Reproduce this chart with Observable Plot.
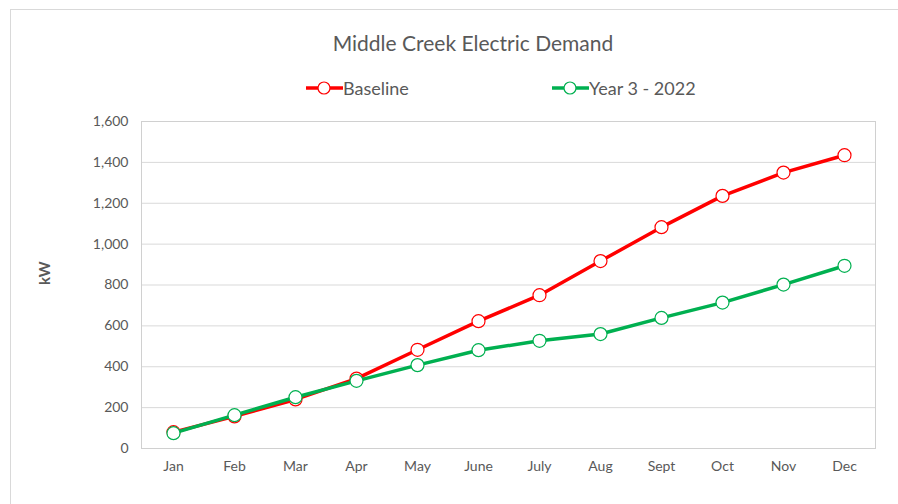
<!DOCTYPE html>
<html>
<head>
<meta charset="utf-8">
<script src="https://cdn.jsdelivr.net/npm/d3@7"></script>
<script src="https://cdn.jsdelivr.net/npm/@observablehq/plot@0.6"></script>
<style>
  html, body { margin: 0; padding: 0; background: #fff; overflow: hidden; }
  #wrap { position: relative; width: 898px; height: 504px; overflow: hidden; font-family: Lato, "Open Sans", sans-serif; }
  #bl { position: absolute; left: 10px; top: 9px; width: 1px; height: 495px; background: #d9d9d9; }
  #bt { position: absolute; left: 10px; top: 9px; width: 888px; height: 1px; background: #d9d9d9; }
  #head { position: absolute; left: 0; top: 0; width: 898px; height: 100px; }
  #title { position: absolute; left: 48px; width: 850px; top: 30px; text-align: center; font-size: 21px; color: #595959; }
  .leg { position: absolute; top: 77px; display: flex; align-items: center; font-size: 18px; color: #595959; }
  #chart { position: absolute; left: 0; top: 100px; width: 898px; height: 404px; overflow: hidden; }
</style>
</head>
<body>
<div id="wrap">
  <div id="bl"></div>
  <div id="bt"></div>
  <div id="head">
    <div id="title">Middle Creek Electric Demand</div>
    <div class="leg" id="leg1" style="left:306px"></div>
    <div class="leg" id="leg2" style="left:552px"></div>
  </div>
  <div id="chart"></div>
</div>
<script>
const months = ["Jan","Feb","Mar","Apr","May","June","July","Aug","Sept","Oct","Nov","Dec"];
const baseline = [80, 157, 240, 342, 483, 623, 750, 917, 1083, 1236, 1350, 1435];
const year3 = [75, 163, 251, 331, 408, 481, 527, 560, 639, 714, 802, 894];
const seriesNames = ["Baseline", "Year 3 - 2022"];
const seriesColors = ["#FF0000", "#00B050"];
const yTicks = [0, 200, 400, 600, 800, 1000, 1200, 1400, 1600];

const rows = [];
months.forEach((m, i) => {
  rows.push({month: m, value: baseline[i], series: seriesNames[0]});
});
months.forEach((m, i) => {
  rows.push({month: m, value: year3[i], series: seriesNames[1]});
});
const bRows = rows.filter(d => d.series === seriesNames[0]);
const gRows = rows.filter(d => d.series === seriesNames[1]);

const chart = Plot.plot({
  width: 898,
  height: 404,
  marginTop: 21,
  marginBottom: 56,
  marginLeft: 141,
  marginRight: 23,
  style: {fontFamily: "Lato, 'Open Sans', sans-serif", fontSize: "14px", color: "#595959", background: "transparent"},
  x: {type: "point", domain: months, padding: 0.5, label: null},
  y: {domain: [0, 1600], ticks: yTicks, label: null, tickFormat: d3.format(",")},
  color: {domain: seriesNames, range: seriesColors},
  marks: [
    Plot.gridY(yTicks, {stroke: "#d9d9d9", strokeOpacity: 1}),
    Plot.frame({stroke: "#d0d0d0", strokeOpacity: 1}),
    Plot.axisY(yTicks, {tickSize: 0, tickPadding: 13, tickFormat: d3.format(","), fontSize: 14, fill: "#595959", label: null}),
    Plot.axisX({tickSize: 0, tickPadding: 13, fontSize: 14, fill: "#595959", label: null}),
    Plot.text(["kW"], {frameAnchor: "left", dx: -96, rotate: -90, fontSize: 15, fontWeight: "bold", fill: "#595959"}),
    Plot.line(bRows, {x: "month", y: "value", stroke: "series", strokeWidth: 3.5}),
    Plot.dot(bRows, {x: "month", y: "value", r: 6.5, fill: "white", stroke: "series", strokeWidth: 1.2}),
    Plot.line(gRows, {x: "month", y: "value", stroke: "series", strokeWidth: 3.5}),
    Plot.dot(gRows, {x: "month", y: "value", r: 6.5, fill: "white", stroke: "series", strokeWidth: 1.2})
  ]
});
document.getElementById("chart").appendChild(chart);

function legendItem(el, name, color) {
  const ns = "http://www.w3.org/2000/svg";
  const svg = document.createElementNS(ns, "svg");
  svg.setAttribute("width", 37);
  svg.setAttribute("height", 16);
  const ln = document.createElementNS(ns, "line");
  ln.setAttribute("x1", 0); ln.setAttribute("x2", 37);
  ln.setAttribute("y1", 8); ln.setAttribute("y2", 8);
  ln.setAttribute("stroke", color); ln.setAttribute("stroke-width", 3.5);
  svg.appendChild(ln);
  const c = document.createElementNS(ns, "circle");
  c.setAttribute("cx", 18); c.setAttribute("cy", 8); c.setAttribute("r", 6);
  c.setAttribute("fill", "white"); c.setAttribute("stroke", color); c.setAttribute("stroke-width", 1.2);
  svg.appendChild(c);
  el.appendChild(svg);
  const t = document.createElement("span");
  t.textContent = name;
  el.appendChild(t);
}
legendItem(document.getElementById("leg1"), seriesNames[0], seriesColors[0]);
legendItem(document.getElementById("leg2"), seriesNames[1], seriesColors[1]);
</script>
</body>
</html>
